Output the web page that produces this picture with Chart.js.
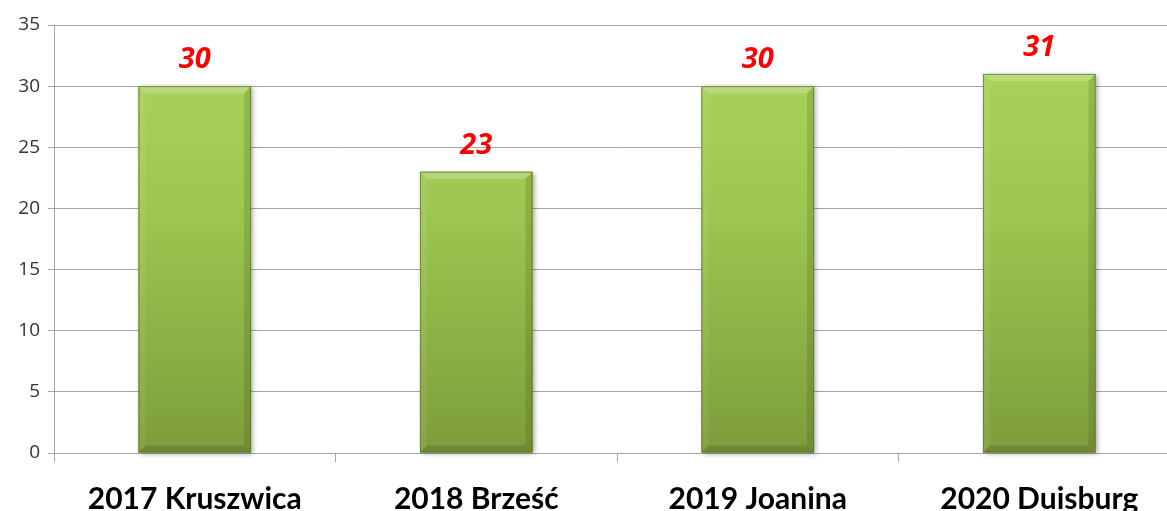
<!DOCTYPE html>
<html>
<head>
<meta charset="utf-8">
<script src="https://cdn.jsdelivr.net/npm/chart.js@4"></script>
<style>
html,body{margin:0;padding:0;background:#fff;overflow:hidden;}
#wrap{width:1184px;height:511px;position:relative;}
</style>
</head>
<body>
<div id="wrap"><canvas id="c" width="1184" height="511"></canvas></div>
<script>
const categories = ["2017 Kruszwica", "2018 Brześć", "2019 Joanina", "2020 Duisburg"];
const values = [30, 23, 30, 31];
const yTicks = [0, 5, 10, 15, 20, 25, 30, 35];

const GRID = '#a6a6a6';

function barGradient(ctx) {
  const chart = ctx.chart;
  const a = chart.chartArea;
  if (!a) return '#95bd4a';
  const g = chart.ctx.createLinearGradient(0, a.top, 0, a.bottom);
  g.addColorStop(0, '#acd65c');
  g.addColorStop(0.45, '#9cc64f');
  g.addColorStop(1, '#7d9d3b');
  return g;
}

const bevelPlugin = {
  id: 'bevel',
  beforeDatasetsDraw(chart) {
    const c = chart.ctx;
    chart.getDatasetMeta(0).data.forEach(bar => {
      const l = bar.x - bar.width / 2, r = bar.x + bar.width / 2;
      c.save();
      c.shadowColor = 'rgba(0,0,0,0.35)';
      c.shadowBlur = 5;
      c.shadowOffsetX = 2;
      c.shadowOffsetY = 1;
      c.fillStyle = '#8aaa45';
      c.fillRect(l, bar.y, r - l, bar.base - bar.y);
      c.restore();
    });
  },
  afterDatasetsDraw(chart) {
    const c = chart.ctx;
    chart.getDatasetMeta(0).data.forEach(bar => {
      const l = bar.x - bar.width / 2, r = bar.x + bar.width / 2;
      const t = bar.y, b = bar.base, d = 7;
      c.save();
      c.fillStyle = 'rgba(255,255,255,0.22)';
      c.beginPath(); c.moveTo(l, t); c.lineTo(r, t); c.lineTo(r - d, t + d); c.lineTo(l + d, t + d); c.closePath(); c.fill();
      c.fillStyle = 'rgba(255,255,255,0.07)';
      c.beginPath(); c.moveTo(l, t); c.lineTo(l + d, t + d); c.lineTo(l + d, b - d); c.lineTo(l, b); c.closePath(); c.fill();
      c.fillStyle = 'rgba(40,60,10,0.16)';
      c.beginPath(); c.moveTo(r, t); c.lineTo(r, b); c.lineTo(r - d, b - d); c.lineTo(r - d, t + d); c.closePath(); c.fill();
      c.fillStyle = 'rgba(40,60,10,0.2)';
      c.beginPath(); c.moveTo(l, b); c.lineTo(r, b); c.lineTo(r - d, b - d); c.lineTo(l + d, b - d); c.closePath(); c.fill();
      c.strokeStyle = 'rgba(90,115,40,0.7)';
      c.lineWidth = 1;
      c.strokeRect(l + 0.5, t + 0.5, r - l - 1, b - t - 1);
      c.restore();
    });
  }
};

const labelPlugin = {
  id: 'valueLabels',
  afterDatasetsDraw(chart) {
    const c = chart.ctx;
    const ds = chart.data.datasets[0];
    chart.getDatasetMeta(0).data.forEach((bar, i) => {
      c.save();
      c.font = 'italic bold 29px "Open Sans", sans-serif';
      c.fillStyle = '#ff0000';
      c.textAlign = 'center';
      c.textBaseline = 'alphabetic';
      c.fillText(String(ds.data[i]), bar.x, bar.y - 18);
      c.restore();
    });
  }
};

new Chart(document.getElementById('c'), {
  type: 'bar',
  data: {
    labels: categories,
    datasets: [{
      data: values,
      backgroundColor: barGradient,
      borderWidth: 0,
      barPercentage: 0.4,
      categoryPercentage: 1.0
    }]
  },
  plugins: [bevelPlugin, labelPlugin],
  options: {
    responsive: false,
    animation: false,
    events: [],
    layout: { padding: { top: 25, right: 4, bottom: 0, left: 0 } },
    plugins: { legend: { display: false }, tooltip: { enabled: false } },
    scales: {
      x: {
        grid: { display: true, drawOnChartArea: false, drawTicks: true, tickLength: 9, color: GRID, offset: true },
        border: { display: true, color: GRID, width: 1 },
        ticks: { color: '#000', font: { family: 'Lato, "Open Sans", sans-serif', size: 30, weight: 'bold' }, padding: 19, maxRotation: 0, autoSkip: false },
        afterFit(s) { s.height = 58; }
      },
      y: {
        min: 0, max: 35,
        afterBuildTicks(s) { s.ticks = yTicks.map(v => ({ value: v })); },
        grid: { color: GRID, drawTicks: true, tickLength: 6 },
        border: { display: true, color: GRID, width: 1 },
        ticks: { color: '#333', font: { family: '"Open Sans", sans-serif', size: 19 }, padding: 8 },
        afterFit(s) { s.width = 54; }
      }
    }
  }
});
</script>
</body>
</html>
